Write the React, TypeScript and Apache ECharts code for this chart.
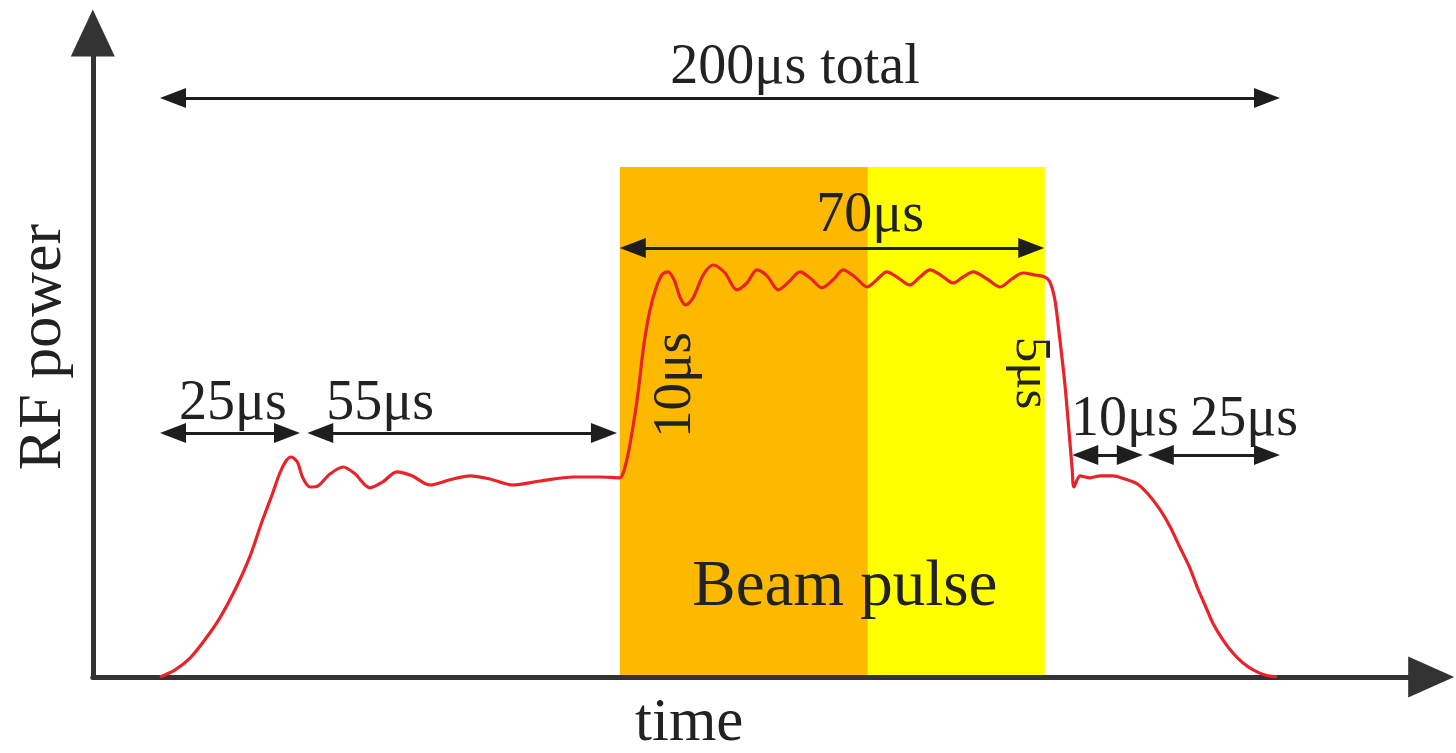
import React, { useEffect, useRef } from 'react';
import * as echarts from 'echarts';

// RF power envelope: time in µs, power in % of full beam-loaded level
const curveTime = [
  0, 2.7, 5.4, 8.0, 10.7, 13.4, 16.1, 18.2, 20.0, 21.4, 22.5, 23.4, 24.5, 25.5, 26.8, 28.2,
  30.4, 32.7, 34.8, 37.5, 39.8, 42.3, 45.0, 48.2, 51.8, 55.4, 58.9, 63.0, 67.9, 73.8, 78.6, 82.1,
  82.9, 83.9, 85.2, 86.4, 87.5, 88.6, 89.6, 90.7, 91.8, 92.9, 93.9, 95.2, 97.0, 98.8, 100.9,
  103.0, 104.8, 106.6, 108.4, 110.4, 112.3, 114.3, 116.3, 118.2, 120.2, 122.0, 124.1, 126.3,
  128.0, 129.8, 131.8, 133.9, 135.7, 137.5, 139.6, 141.6, 143.4, 145.2, 147.7, 150.0, 152.1,
  154.1, 156.3, 158.0, 158.9, 159.8, 160.7, 161.6, 162.3, 162.9, 163.2, 164.3, 166.1, 167.9,
  170.2, 172.3, 174.5, 176.4, 178.6, 180.4, 182.1, 183.9, 185.2, 186.6, 188.0, 189.8, 191.6,
  193.4, 195.2, 197.3, 199.5,
];
const curvePower = [
  0, 1.8, 4.8, 9.3, 14.8, 21.8, 30.3, 38.8, 45.5, 51.0, 54.0, 55.0, 53.8, 49.8, 47.5, 47.8,
  50.8, 52.5, 50.8, 47.3, 48.8, 51.3, 50.3, 48.0, 49.3, 50.3, 49.5, 48.0, 49.0, 50.0, 50.0, 49.8,
  51.8, 58.0, 69.3, 83.0, 91.8, 97.3, 100.5, 101.3, 99.3, 94.8, 93.0, 94.8, 100.5, 103.0, 101.0,
  96.8, 98.5, 101.8, 100.3, 96.8, 98.8, 101.3, 99.5, 97.3, 99.3, 101.8, 100.0, 97.5,
  99.3, 101.3, 99.8, 98.0, 100.0, 101.8, 100.3, 98.5, 100.0, 101.3, 99.5, 97.5, 99.5,
  101.0, 100.5, 100.0, 98.8, 94.3, 84.3, 73.0, 61.8, 51.8, 47.5, 50.3, 49.8, 50.3,
  50.3, 49.5, 48.3, 45.8, 41.8, 37.5, 32.5, 27.3, 22.5, 18.0, 13.5, 9.3, 6.0,
  3.5, 1.8, 0.5, 0,
];

// Beam pulse shading (µs)
const bandStarts = [82.1, 126.4];
const bandEnds = [126.4, 158.0];
const bandColors = ['#FCB900', '#FFFF00'];
const bandTop = 127.5;

// Dimension arrows (µs from, µs to, power level)
const spanFrom = [0, 0, 26.3, 82.1, 162.9, 176.4];
const spanTo = [200, 25, 81.6, 157.9, 175.5, 200];
const spanLevel = [144.75, 61, 61, 107.25, 55.5, 55.5];

// Texts: anchor = centre of the baseline, in (µs, power)
const labelTexts = ['200μs total', '25μs', '55μs', '70μs', '10μs', '25μs', 'Beam pulse', 'time', 'RF power', '10μs', '5μs'];
const labelTime = [113.4, 13.0, 39.3, 126.8, 172.3, 193.6, 122.3, 94.5, -17.9, 94.6, 153.0];
const labelPower = [148.5, 64.5, 64.5, 111.5, 60.5, 60.5, 18.0, -15.75, 82.5, 73.0, 76.0];
const labelSizes = [56, 56, 56, 56, 56, 56, 65, 61, 62, 55, 51];
const labelRot = [0, 0, 0, 0, 0, 0, 0, 0, 90, 90, -90];

const FONT = '"Liberation Serif", "Times New Roman", serif';

export default function App() {
  const ref = useRef<HTMLDivElement>(null);

  useEffect(() => {
    if (!ref.current) return;
    const chart = echarts.init(ref.current, undefined, { renderer: 'svg' });

    const pxPerUs = 5.6;
    const headLen = 26;
    const inset = headLen / 2 / pxPerUs;

    const curveData = curveTime.map((t, i) => [t, curvePower[i]]);

    const option: any = {
      animation: false,
      backgroundColor: '#ffffff',
      grid: { left: 92.8, top: 33, width: 1338.4, height: 644, containLabel: false },
      xAxis: {
        type: 'value',
        min: -12,
        max: 227,
        z: 3,
        axisLine: {
          show: true,
          onZero: false,
          symbol: ['none', 'triangle'],
          symbolSize: [41, 46],
          lineStyle: { color: '#333333', width: 5 },
        },
        axisTick: { show: false },
        axisLabel: { show: false },
        splitLine: { show: false },
      },
      yAxis: {
        type: 'value',
        min: 0,
        max: 161,
        z: 3,
        axisLine: {
          show: true,
          onZero: false,
          symbol: ['none', 'triangle'],
          symbolSize: [44, 47],
          lineStyle: { color: '#333333', width: 5 },
        },
        axisTick: { show: false },
        axisLabel: { show: false },
        splitLine: { show: false },
      },
      series: [
        {
          type: 'line',
          name: 'bands',
          data: [],
          z: 1,
          silent: true,
          markArea: {
            silent: true,
            label: { show: false },
            data: bandStarts.map((s, i) => [
              { coord: [s, 0], itemStyle: { color: bandColors[i], opacity: 1 } },
              { coord: [bandEnds[i], bandTop] },
            ]),
          },
        },
        {
          type: 'line',
          name: 'RF power',
          data: curveData,
          z: 5,
          smooth: 0.3,
          showSymbol: false,
          symbol: 'none',
          silent: true,
          lineStyle: { color: '#e8232a', width: 3.2 },
        },
        {
          type: 'line',
          name: 'spans',
          data: [],
          z: 6,
          silent: true,
          markLine: {
            silent: true,
            symbol: ['triangle', 'triangle'],
            symbolSize: [20, headLen],
            label: { show: false },
            lineStyle: { color: '#1e1e1e', width: 3, type: 'solid' },
            emphasis: { disabled: true },
            data: spanFrom.map((f, i) => [
              { coord: [f + inset, spanLevel[i]] },
              { coord: [spanTo[i] - inset, spanLevel[i]] },
            ]),
          },
        },
      ],
    };
    chart.setOption(option);

    const elements = labelTexts.map((text, i) => {
      const p = chart.convertToPixel({ gridIndex: 0 }, [labelTime[i], labelPower[i]]) as number[];
      const d = 0.34 * labelSizes[i];
      let x = p[0];
      let y = p[1];
      if (labelRot[i] === 0) y -= d;
      else if (labelRot[i] === 90) x -= d;
      else x += d;
      return {
        type: 'text',
        x,
        y,
        z: 100,
        rotation: (labelRot[i] * Math.PI) / 180,
        silent: true,
        style: {
          text,
          fontFamily: FONT,
          fontSize: labelSizes[i],
          lineHeight: labelSizes[i],
          fill: '#222222',
          align: 'center',
          verticalAlign: 'middle',
        },
      };
    });
    chart.setOption({ graphic: { elements } });

    return () => chart.dispose();
  }, []);

  return (
    <div
      ref={ref}
      style={{ position: 'absolute', left: 0, top: 0, width: 1456, height: 753, background: '#fff' }}
    />
  );
}
